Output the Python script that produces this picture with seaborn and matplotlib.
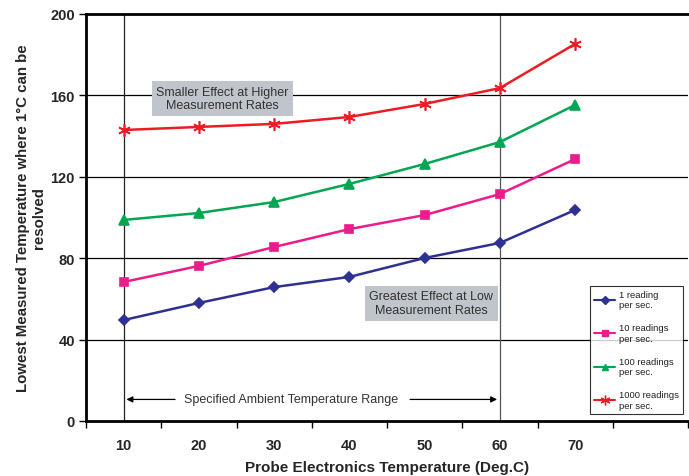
import matplotlib
matplotlib.use("Agg")
import matplotlib.pyplot as plt
import seaborn as sns
import pandas as pd
import numpy as np
from matplotlib.lines import Line2D

temps = [10, 20, 30, 40, 50, 60, 70]
r1 = [49.6, 58.0, 65.8, 70.8, 80.1, 87.5, 103.7]
r10 = [68.3, 76.2, 85.5, 94.3, 101.2, 111.5, 128.7]
r100 = [98.8, 102.2, 107.6, 116.5, 126.3, 137.1, 155.3]
r1000 = [143.0, 144.5, 146.0, 149.4, 155.8, 163.6, 185.3]
series_names = ["1 reading\nper sec.", "10 readings\nper sec.", "100 readings\nper sec.", "1000 readings\nper sec."]
colors = ["#2e3192", "#ec1c8c", "#00a651", "#ed1c24"]
markers = ["D", "s", "^", (6, 2, 0)]
msizes = [5, 6, 7, 9]
yticks = [0, 40, 80, 120, 160, 200]

sns.set_theme(style="white")
plt.rcParams['font.family'] = ['Liberation Sans', 'DejaVu Sans']

rows = []
for name, vals in zip(series_names, [r1, r10, r100, r1000]):
    for i, (t, v) in enumerate(zip(temps, vals)):
        rows.append({"pos": i, "temp": t, "value": v, "series": name})
df = pd.DataFrame(rows)

fig = plt.figure(figsize=(6.89, 4.77), dpi=100)
ax = fig.add_axes([86/689, 1-422/477, 602/689, 407/477])

ax.set_xlim(-0.5, len(temps) + 0.5)
ax.set_ylim(0, 200)

for y in yticks[1:-1]:
    ax.axhline(y, color="black", lw=0.9, zorder=1)
ax.axvline(0, color="#222222", lw=0.9, zorder=1)
ax.axvline(5, color="#555555", lw=0.9, zorder=1)

for name, c, m, ms in zip(series_names, colors, markers, msizes):
    sub = df[df["series"] == name]
    sns.lineplot(data=sub, x="pos", y="value", color=c, marker=m, markersize=ms,
                 markeredgecolor=c, markeredgewidth=1.2, lw=1.8, ax=ax, zorder=3)

# legend
handles = []
for name, c, m in zip(series_names, colors, markers):
    ms = 7 if m == (6, 2, 0) else 4.5
    handles.append(Line2D([], [], color=c, marker=m, markersize=ms, lw=1.5,
                          markeredgecolor=c, markeredgewidth=1))
leg = ax.legend(handles, series_names, loc="upper left",
                bbox_to_anchor=(0.837, 0.332),
                fontsize=6.8, frameon=True, fancybox=False, handlelength=2.3,
                labelspacing=1.5, borderpad=0.4, handletextpad=0.4, borderaxespad=0)
leg.get_frame().set_edgecolor("black")
leg.get_frame().set_linewidth(0.8)
for t in leg.get_texts():
    t.set_color("#222222")

# ticks
ax.set_yticks(yticks)
ax.set_yticklabels([str(v) for v in yticks], fontsize=10.5, fontweight="bold")
ax.set_xticks(np.arange(-0.5, len(temps) + 0.6, 1.0))
ax.set_xticklabels([])
ax.set_xticks(np.arange(len(temps)), minor=True)
ax.set_xticklabels([str(t) for t in temps], minor=True, fontsize=10.5, fontweight="bold")
ax.tick_params(axis="x", which="major", direction="out", length=5, width=1, color="black", bottom=True)
ax.tick_params(axis="x", which="minor", length=0, pad=12)
ax.tick_params(axis="y", direction="out", length=5, width=1, color="black", left=True, pad=3)

for s in ["left", "bottom", "top"]:
    ax.spines[s].set_color("black")
    ax.spines[s].set_linewidth(2)
ax.spines["right"].set_visible(False)

ax.set_xlabel("Probe Electronics Temperature (Deg.C)", fontsize=11, fontweight="bold", labelpad=6)
ax.set_ylabel("Lowest Measured Temperature where 1\u00b0C can be\nresolved", fontsize=10.8,
              fontweight="bold", labelpad=3)

box = dict(boxstyle="square,pad=0.35", facecolor="#c0c4cb", edgecolor="none")
ax.text(1.31, 158.5, "Smaller Effect at Higher\nMeasurement Rates", ha="center", va="center",
        fontsize=9, color="#333333", bbox=box, zorder=4, linespacing=1.2)
ax.text(4.09, 57.8, "Greatest Effect at Low\nMeasurement Rates", ha="center", va="center",
        fontsize=9, color="#333333", bbox=box, zorder=4, linespacing=1.2)

ax.text(2.23, 10.6, "Specified Ambient Temperature Range", ha="center", va="center",
        fontsize=9, color="#333333")
arrow = dict(arrowstyle="-|>", color="black", lw=0.9, mutation_scale=9)
ax.annotate("", xy=(0, 10.6), xytext=(0.72, 10.6), arrowprops=arrow)
ax.annotate("", xy=(5, 10.6), xytext=(3.77, 10.6), arrowprops=arrow)

fig.savefig("out.png", dpi=100)
